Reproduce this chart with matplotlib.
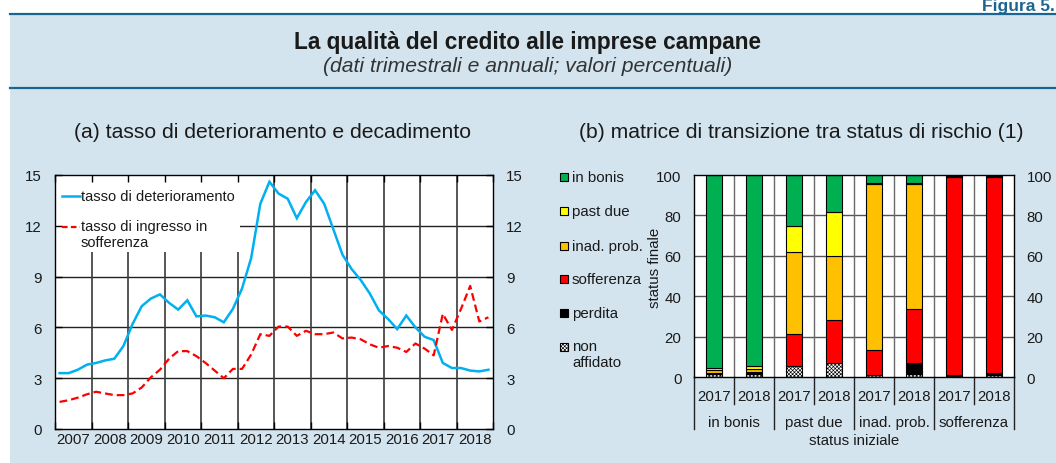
import matplotlib
matplotlib.use('Agg')
import matplotlib.pyplot as plt
import matplotlib.transforms as mtransforms
from matplotlib.patches import Rectangle
from matplotlib.lines import Line2D
import numpy as np

plt.rcParams['font.family'] = ['Liberation Sans', 'DejaVu Sans']
plt.rcParams['hatch.linewidth'] = 0.45
plt.rcParams['hatch.color'] = '#555555'

# ---------------- data ----------------
# (a) quarterly rates, 2007 Q1 - 2018 Q4
years = list(range(2007, 2019))
deterioramento = [3.3, 3.3, 3.5, 3.8, 3.9, 4.05, 4.15, 4.9, 6.2, 7.25,
                  7.7, 7.95, 7.45, 7.05, 7.6, 6.65, 6.7, 6.6, 6.3, 7.1,
                  8.3, 10.1, 13.3, 14.6, 13.9, 13.6, 12.45, 13.4, 14.1, 13.3,
                  11.8, 10.3, 9.45, 8.8, 8.0, 7.0, 6.5, 5.9, 6.7, 6.0,
                  5.45, 5.25, 3.9, 3.6, 3.6, 3.45, 3.4, 3.5]
ingresso_sofferenza = [1.6, 1.7, 1.85, 2.05, 2.2, 2.1, 2.0, 2.0, 2.1, 2.45,
                       3.05, 3.5, 4.15, 4.6, 4.6, 4.3, 3.9, 3.45, 3.0, 3.55,
                       3.55, 4.4, 5.6, 5.5, 6.05, 6.05, 5.5, 5.8, 5.6, 5.6,
                       5.7, 5.35, 5.4, 5.3, 5.0, 4.8, 4.9, 4.8, 4.55, 5.05,
                       4.75, 4.35, 6.8, 5.85, 7.1, 8.45, 6.35, 6.6]
serie_a_labels = ['tasso di deterioramento', 'tasso di ingresso in\nsofferenza']

# (b) transition matrix: initial status groups, two years each
gruppi = ['in bonis', 'past due', 'inad. prob.', 'sofferenza']
anni_b = ['2017', '2018']
non_affidato = [1.3, 1.6, 5.4, 7.1, 0.8, 1.6, 0.3, 1.0]
perdita = [0.3, 0.4, 0.0, 0.0, 0.3, 5.5, 0.5, 1.0]
sofferenza = [0.5, 0.6, 16.0, 21.1, 12.4, 26.7, 98.0, 96.8]
inad_prob = [1.6, 1.5, 40.4, 31.9, 82.2, 61.9, 0.6, 0.6]
past_due = [1.0, 1.1, 12.8, 21.8, 0.3, 0.3, 0.1, 0.1]
in_bonis = [95.3, 94.8, 25.4, 18.1, 4.0, 4.0, 0.5, 0.5]
status_finale = ['non\naffidato', 'perdita', 'sofferenza', 'inad. prob.', 'past due', 'in bonis']

# ---------------- styling ----------------
W, H, DPI = 1056, 464, 100
PANEL = '#d3e4ee'
RULE = '#1b6690'
TXT = '#1a1a1a'
BLUE = '#00b0f0'
RED = '#ff0000'
stack_colors = ['white', 'black', '#ff0000', '#ffc000', '#ffff00', '#00b050']
stack_hatch = ['xxxxxxxxx', None, None, None, None, None]
FS = 10.8


def fx(px):
    return px / W


def fy(py):
    return 1 - py / H


fig = plt.figure(figsize=(W / DPI, H / DPI), dpi=DPI)
fig.patch.set_facecolor('white')

# frame of the figure box
fig.add_artist(Rectangle((fx(10), 0), 1 - fx(10), fy(15), transform=fig.transFigure,
                         facecolor=PANEL, edgecolor='none', zorder=-10))
for yy in (15, 88.5):
    fig.add_artist(Line2D([fx(10), 1], [fy(yy), fy(yy)], transform=fig.transFigure,
                          color=RULE, lw=1.6, zorder=-5))

fig.text(fx(1055), fy(11), 'Figura 5.', ha='right', va='baseline', fontsize=12.5,
         fontweight='bold', color=RULE)
fig.text(0.5, fy(42), 'La qualità del credito alle imprese campane', ha='center',
         va='center', fontsize=16.3, fontweight='bold', color=TXT)
fig.text(0.5, fy(67), '(dati trimestrali e annuali; valori percentuali)', ha='center',
         va='center', fontsize=15.2, style='italic', color='#333333')
fig.text(fx(272), fy(133), '(a) tasso di deterioramento e decadimento', ha='center',
         va='center', fontsize=15.2, color=TXT)
fig.text(fx(801), fy(133), '(b) matrice di transizione tra status di rischio (1)',
         ha='center', va='center', fontsize=15.2, color=TXT)

# ---------------- panel (a) ----------------
ax1 = fig.add_axes([fx(55), fy(430), 438 / W, 254 / H])
ax1.set_facecolor('white')
xq = [y + (q + 0.5) / 4 for y in years for q in range(4)]
ax1.set_xlim(years[0], years[-1] + 1)
ax1.set_ylim(0, 15)

for v in (3, 6, 9, 12):
    ax1.axhline(v, color='#222222', lw=1.0, zorder=0.6)
for yr in years[1:]:
    ax1.axvline(yr, color='#3a3a3a', lw=1.2, zorder=0.6)

# white box behind the legend
ax1.add_patch(Rectangle((0, (430 - 253) / 254), (240 - 55) / 438, 1 - (430 - 253) / 254,
                        transform=ax1.transAxes, facecolor='white', edgecolor='none',
                        zorder=0.8))

ax1.plot(xq, deterioramento, color=BLUE, lw=1.8, zorder=3, solid_joinstyle='miter')
ax1.plot(xq, ingresso_sofferenza, color=RED, lw=1.6, dashes=(3.5, 1.8), zorder=3)

ax1.set_xticks(range(years[0], years[-1] + 2))
ax1.set_xticks([y + 0.5 for y in years], minor=True)
ax1.set_xticklabels([str(y) for y in years], minor=True)
ax1.tick_params(axis='x', which='major', direction='in', length=5, top=True,
                labelbottom=False, width=1)
ax1.tick_params(axis='x', which='minor', length=0, pad=2, labelsize=FS, labelcolor=TXT)
ax1.set_yticks(range(0, 16, 3))
ax1.tick_params(axis='y', direction='in', length=5, left=True, right=True,
                labelleft=True, labelright=True, pad=9.5, labelsize=FS,
                labelcolor=TXT, width=1)
for s in ax1.spines.values():
    s.set_color('black')
    s.set_linewidth(1.0)

# legend of panel (a)
fig.add_artist(Line2D([fx(62), fx(80)], [fy(197), fy(197)], transform=fig.transFigure,
                      color=BLUE, lw=1.8))
fig.add_artist(Line2D([fx(62), fx(80)], [fy(228), fy(228)], transform=fig.transFigure,
                      color=RED, lw=1.6, dashes=(2.5, 1.5)))
fig.text(fx(81), fy(197), serie_a_labels[0], ha='left', va='center', fontsize=10.5,
         color=TXT)
fig.text(fx(81), fy(220), serie_a_labels[1], ha='left', va='top', fontsize=10.5,
         color=TXT, linespacing=1.15)

# ---------------- panel (b) ----------------
ax2 = fig.add_axes([fx(694), fy(378), 320 / W, 202 / H])
ax2.set_facecolor('white')
xpos = np.arange(len(non_affidato))
ax2.set_xlim(-0.5, len(xpos) - 0.5)
ax2.set_ylim(0, 100)

for v in (20, 40, 60, 80):
    ax2.axhline(v, color='#555555', lw=1.0, zorder=0.6)
for b in xpos[:-1] + 0.5:
    ax2.axvline(b, color='#6a6a6a', lw=1.0, zorder=0.6)

stack = [non_affidato, perdita, sofferenza, inad_prob, past_due, in_bonis]
bottom = np.zeros(len(xpos))
for vals, col, hat in zip(stack, stack_colors, stack_hatch):
    ax2.bar(xpos, vals, width=0.4, bottom=bottom, color=col, edgecolor='black',
            linewidth=0.8, hatch=hat, zorder=2)
    bottom += np.array(vals)

ax2.set_yticks(range(0, 101, 20))
ax2.tick_params(axis='y', length=0, labelleft=True, labelright=True, pad=9,
                labelsize=FS, labelcolor=TXT)
ax2.set_xticks(xpos)
ax2.set_xticklabels(anni_b * len(gruppi))
ax2.tick_params(axis='x', length=0, pad=8.5, labelsize=FS, labelcolor=TXT)
for s in ax2.spines.values():
    s.set_color('black')
    s.set_linewidth(1.0)

trans = mtransforms.blended_transform_factory(ax2.transData, ax2.transAxes)
for b in np.arange(-0.5, len(xpos), 2):
    ax2.plot([b, b], [0, -(430 - 378) / 202], transform=trans, clip_on=False,
             color='#222222', lw=1.0)
for b in np.arange(0.5, len(xpos), 2):
    ax2.plot([b, b], [0, -(405 - 378) / 202], transform=trans, clip_on=False,
             color='#222222', lw=1.0)
for i, g in enumerate(gruppi):
    ax2.text(2 * i + 0.5, -(423 - 378) / 202, g, transform=trans, ha='center',
             va='center', fontsize=FS, color=TXT)
ax2.text(0.5, -(441 - 378) / 202, 'status iniziale', transform=ax2.transAxes,
         ha='center', va='center', fontsize=FS, color=TXT)
fig.text(fx(655), fy(268), 'status finale', rotation=90, ha='center', va='center',
         fontsize=FS, color=TXT)

# legend of panel (b)
rows_y = [178, 212, 247, 280, 314, 348]
legend_items = list(zip(status_finale, stack_colors, stack_hatch))[::-1]
for yy, (lab, col, hat) in zip(rows_y, legend_items):
    fig.add_artist(Rectangle((fx(560), fy(yy + 4)), 8 / W, 8 / H,
                             transform=fig.transFigure, facecolor=col,
                             edgecolor='black', linewidth=0.8, hatch=hat))
    if '\n' in lab:
        fig.text(fx(572), fy(yy - 8), lab, ha='left', va='top', fontsize=FS,
                 color=TXT, linespacing=1.15)
    else:
        fig.text(fx(572), fy(yy), lab, ha='left', va='center', fontsize=FS, color=TXT)

fig.savefig('out.png', dpi=DPI, facecolor=fig.get_facecolor())
